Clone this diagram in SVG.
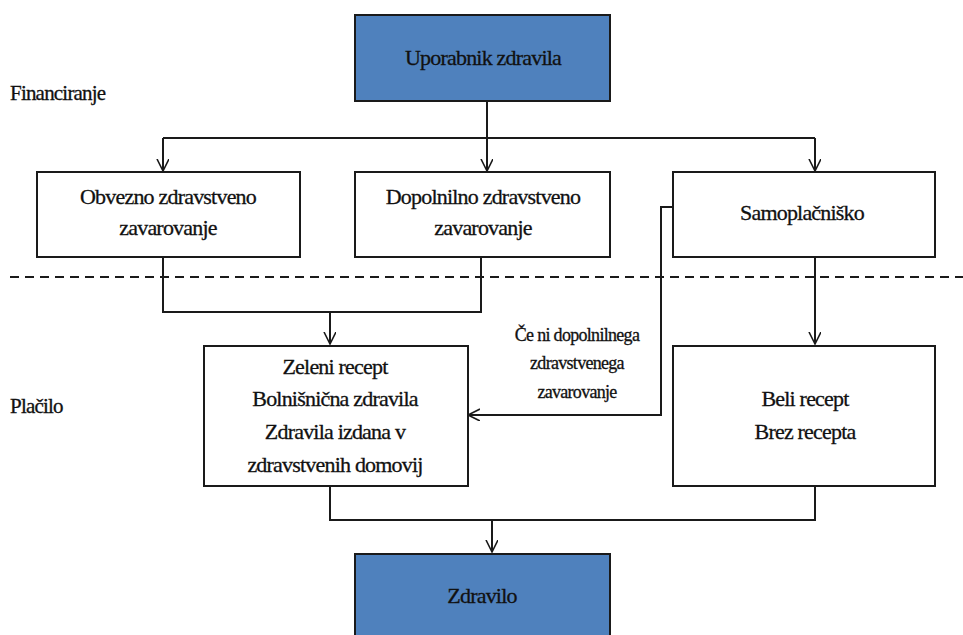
<svg xmlns="http://www.w3.org/2000/svg" width="963" height="635" viewBox="0 0 963 635">
<style>
.box{fill:#fff;stroke:#1a1a1a;stroke-width:2}
.blue{fill:#4f81bd;stroke:#1a1a1a;stroke-width:2}
text{font-family:'Liberation Serif','Times New Roman','DejaVu Serif',serif;fill:#111;stroke:#111;stroke-width:0.3}
.t{font-size:22px;text-anchor:middle;letter-spacing:-0.8px}
.side{font-size:21px;letter-spacing:-0.8px}
.lbl{font-size:18px;text-anchor:middle;letter-spacing:-0.7px}
.ln{fill:none;stroke:#1a1a1a;stroke-width:2}
</style>
<defs>
<marker id="ah" markerWidth="14" markerHeight="14" refX="12" refY="6" orient="auto" markerUnits="userSpaceOnUse">
<path d="M0,0 L12,6 L0,12" fill="none" stroke="#1a1a1a" stroke-width="1.6"/>
</marker>
</defs>
<rect width="963" height="635" fill="#fff"/>
<text class="side" x="10" y="100">Financiranje</text>
<text class="side" x="10" y="413">Plačilo</text>
<line x1="10" y1="277" x2="963" y2="277" stroke="#1a1a1a" stroke-width="2" stroke-dasharray="9,6"/>
<g id="connectors">
<path class="ln" d="M487,101 V138"/>
<path class="ln" d="M163,138 H815"/>
<path class="ln" d="M163,138 V171" marker-end="url(#ah)"/>
<path class="ln" d="M487,138 V171" marker-end="url(#ah)"/>
<path class="ln" d="M815,138 V171" marker-end="url(#ah)"/>
<path class="ln" d="M163,257 V312 H481 V257"/>
<path class="ln" d="M330,312 V344" marker-end="url(#ah)"/>
<path class="ln" d="M673,207 H661 V415 H468" marker-end="url(#ah)"/>
<path class="ln" d="M815,257 V344" marker-end="url(#ah)"/>
<path class="ln" d="M330,486 V520 H815 V486"/>
<path class="ln" d="M492,520 V552" marker-end="url(#ah)"/>
<text class="lbl" x="577" y="341">Če ni dopolnilnega</text>
<text class="lbl" x="577" y="369">zdravstvenega</text>
<text class="lbl" x="577" y="398">zavarovanje</text>
</g>
<g id="uporabnik">
<rect class="blue" x="355" y="15" width="255" height="86"/>
<text class="t" x="483" y="65">Uporabnik zdravila</text>
</g>
<g id="obvezno">
<rect class="box" x="37" y="172" width="263" height="85"/>
<text class="t" x="168" y="204">Obvezno zdravstveno</text>
<text class="t" x="168" y="235">zavarovanje</text>
</g>
<g id="dopolnilno">
<rect class="box" x="355" y="172" width="255" height="85"/>
<text class="t" x="483" y="204">Dopolnilno zdravstveno</text>
<text class="t" x="483" y="235">zavarovanje</text>
</g>
<g id="samoplacnisko">
<rect class="box" x="673" y="172" width="262" height="85"/>
<text class="t" x="802" y="220">Samoplačniško</text>
</g>
<g id="zeleni">
<rect class="box" x="204" y="346" width="264" height="140"/>
<text class="t" x="335" y="374">Zeleni recept</text>
<text class="t" x="335" y="406">Bolnišnična zdravila</text>
<text class="t" x="335" y="439">Zdravila izdana v</text>
<text class="t" x="335" y="472">zdravstvenih domovij</text>
</g>
<g id="beli">
<rect class="box" x="673" y="346" width="262" height="140"/>
<text class="t" x="805" y="406">Beli recept</text>
<text class="t" x="805" y="439">Brez recepta</text>
</g>
<g id="zdravilo">
<rect class="blue" x="355" y="554" width="255" height="90"/>
<text class="t" x="482" y="603">Zdravilo</text>
</g>
</svg>
